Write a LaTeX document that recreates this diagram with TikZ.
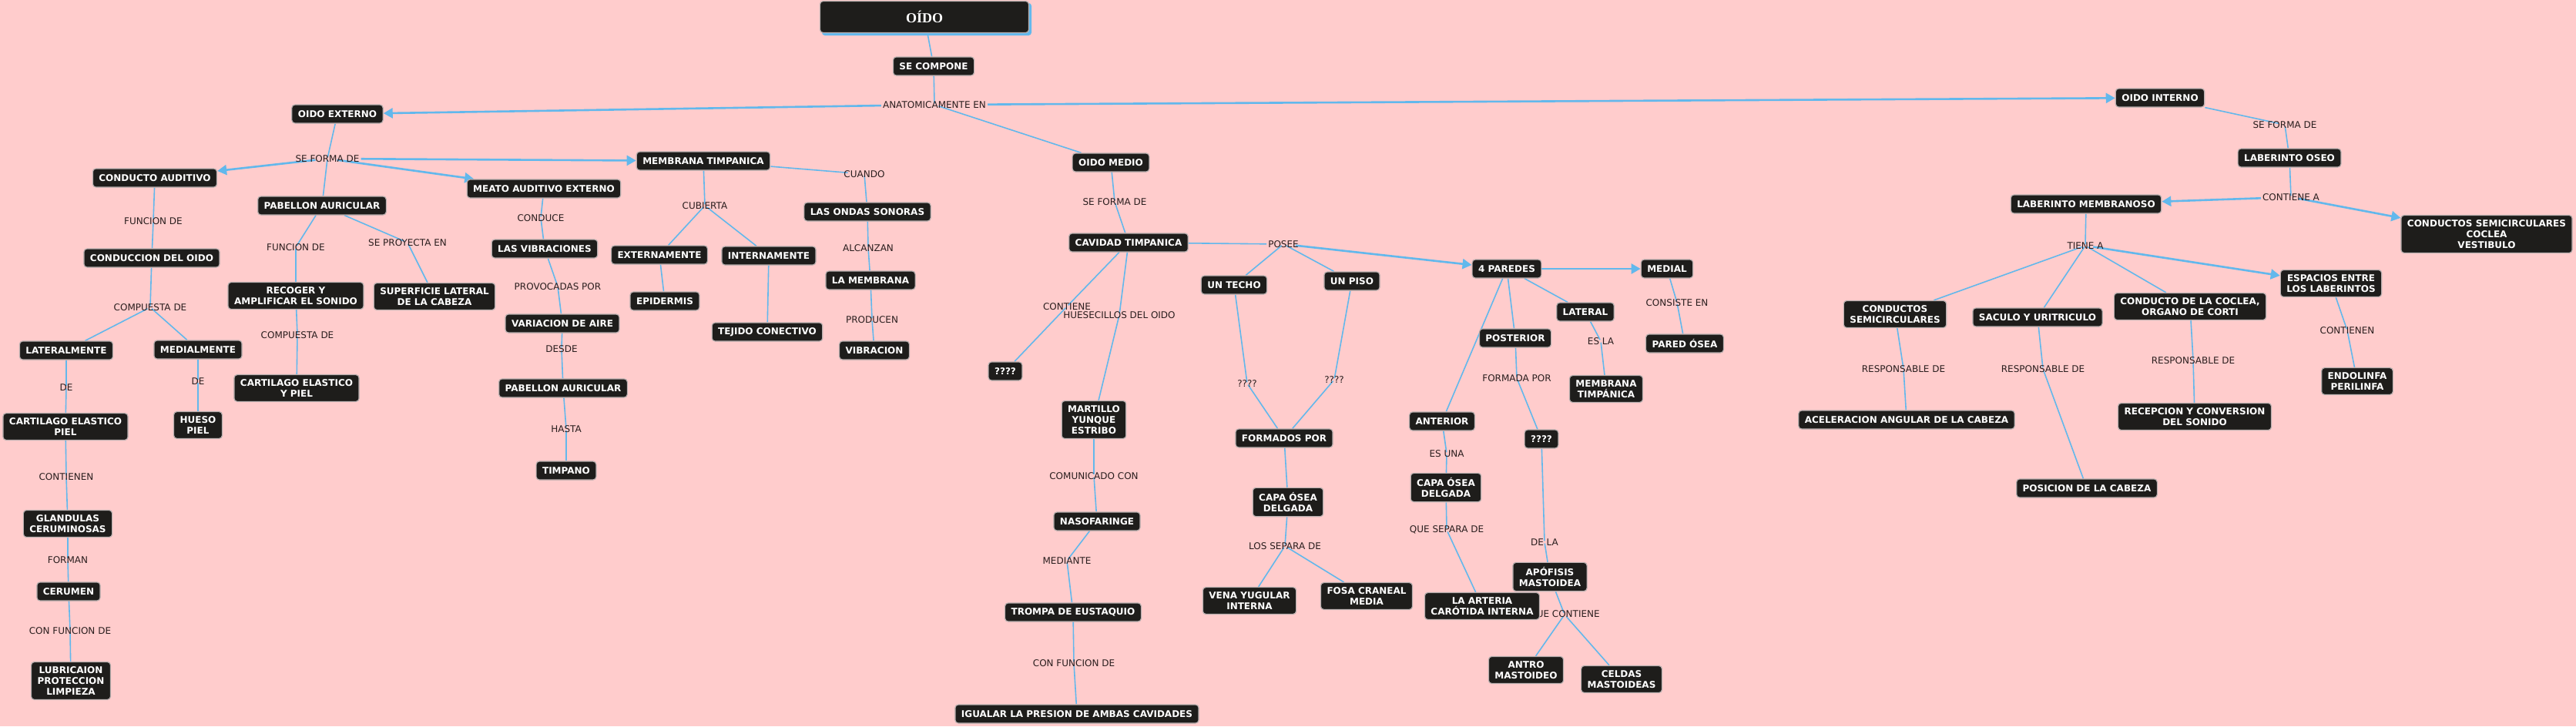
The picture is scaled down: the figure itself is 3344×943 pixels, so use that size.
\documentclass[tikz,border=0pt]{standalone}
\usepackage{fontspec}
\setmainfont{DejaVu Sans}
\newfontfamily\titlefont{Liberation Serif}
\usetikzlibrary{arrows.meta}
\definecolor{bgpink}{HTML}{FFCCCC}
\definecolor{boxdark}{HTML}{1E1D1B}
\definecolor{boxrim}{HTML}{B8AFAF}
\definecolor{linkblue}{HTML}{62B8EC}
\definecolor{phrasecol}{HTML}{2A1E1E}
\pgfdeclarelayer{background}
\pgfsetlayers{background,main}

\begin{document}
\begin{tikzpicture}[x=1pt,y=-1pt,
  concept/.style={draw=boxrim,line width=1.2pt,fill=boxdark,rounded corners=4pt,text=white,font=\fontsize{12}{14}\selectfont\bfseries,align=center,inner xsep=8pt,inner ysep=6pt,minimum height=24pt},
  phrase/.style={text=phrasecol,font=\fontsize{12}{14}\selectfont,inner xsep=2pt,inner ysep=-3pt},
  edge/.style={linkblue,line width=1.6pt},
  arr/.style={linkblue,line width=2.6pt,-{Triangle[length=12pt,width=13pt]}}]
\useasboundingbox (0,0) rectangle (3344,943);

% linking phrases
\foreach \id/\x/\y/\t in {
l1/1213/136/ANATOMICAMENTE EN, l2/425/206/SE FORMA DE, l3/199/287/FUNCION DE,
l4/195/399/COMPUESTA DE, l5/86/503/DE, l6/257/495/DE, l7/86/619/CONTIENEN,
l8/88/727/FORMAN, l9/91/819/CON FUNCION DE, l10/384/321/FUNCION DE,
l11/529/315/SE PROYECTA EN, l12/386/435/COMPUESTA DE, l13/702/283/CONDUCE,
l14/724/372/PROVOCADAS POR, l15/729/453/DESDE, l16/735/557/HASTA,
l17/915/267/CUBIERTA, l18/1122/226/CUANDO, l19/1127/322/ALCANZAN,
l20/1132/415/PRODUCEN, l21/1447/262/SE FORMA DE, l22/1385/398/CONTIENE,
l23/1453/409/HUESECILLOS DEL OIDO, l24/1420/618/COMUNICADO CON,
l25/1385/728/MEDIANTE, l26/1394/861/CON FUNCION DE, l27/1666/317/POSEE,
l28/1619/498/????, l29/1732/493/????, l30/1668/709/LOS SEPARA DE,
l31/2177/393/CONSISTE EN, l32/2078/443/ES LA, l33/1969/491/FORMADA POR,
l34/2005/704/DE LA, l35/2031/798/QUE CONTIENE, l36/1878/589/ES UNA,
l37/1878/688/QUE SEPARA DE, l38/2966/162/SE FORMA DE, l39/2974/256/CONTIENE A,
l40/2707/319/TIENE A, l41/2471/479/RESPONSABLE DE, l42/2652/479/RESPONSABLE DE,
l43/2847/468/RESPONSABLE DE, l44/3047/429/CONTIENEN}
{
  \node[phrase] (\id) at (\x,\y) {\t};
}

% concepts
\node[concept,font=\titlefont\fontsize{18}{20}\selectfont\bfseries,minimum width=271pt,minimum height=41pt] (oido) at (1200,22) {OÍDO};
\foreach \id/\x/\y/\t in {
comp/1212/86/SE COMPONE, ext/438/148/OIDO EXTERNO, int/2804/127/OIDO INTERNO,
med/1442/211/OIDO MEDIO, cond/201/231/CONDUCTO AUDITIVO,
pab/418/267/PABELLON AURICULAR, meato/706/245/MEATO AUDITIVO EXTERNO,
memb/913/209/MEMBRANA TIMPANICA, condo/197/335/CONDUCCION DEL OIDO,
latm/86/455/LATERALMENTE, medm/257/454/MEDIALMENTE,
cartp/85/554/CARTILAGO ELASTICO\\PIEL, hueso/257/552/HUESO\\PIEL,
gland/88/680/GLANDULAS\\CERUMINOSAS, cerum/89/768/CERUMEN,
lubr/92/884/LUBRICAION\\PROTECCION\\LIMPIEZA,
recog/384/384/RECOGER Y\\AMPLIFICAR EL SONIDO,
sup/564/385/SUPERFICIE LATERAL\\DE LA CABEZA,
carty/385/504/CARTILAGO ELASTICO\\Y PIEL,
vib/707/323/LAS VIBRACIONES, var/730/420/VARIACION DE AIRE,
pabb/731/504/PABELLON AURICULAR, timp/735/611/TIMPANO,
extm/856/331/EXTERNAMENTE, intm/998/332/INTERNAMENTE,
epid/863/391/EPIDERMIS, tej/996/431/TEJIDO CONECTIVO,
ondas/1126/275/LAS ONDAS SONORAS, lamem/1130/364/LA MEMBRANA,
vibr/1135/455/VIBRACION, cav/1465/315/CAVIDAD TIMPANICA,
qa/1305/482/????, mart/1420/545/MARTILLO\\YUNQUE\\ESTRIBO,
naso/1424/677/NASOFARINGE, trompa/1393/795/TROMPA DE EUSTAQUIO,
igual/1398/927/IGUALAR LA PRESION DE AMBAS CAVIDADES,
techo/1602/370/UN TECHO, piso/1755/365/UN PISO, par/1956/349/4 PAREDES,
form/1667/569/FORMADOS POR, capa/1672/652/CAPA ÓSEA\\DELGADA,
vena/1622/780/VENA YUGULAR\\INTERNA, fosa/1774/774/FOSA CRANEAL\\MEDIA,
medial/2164/349/MEDIAL, pared/2187/446/PARED ÓSEA, lat/2058/405/LATERAL,
membt/2085/505/MEMBRANA\\TIMPÁNICA, post/1967/439/POSTERIOR,
qb/2001/570/????, apof/2012/749/APÓFISIS\\MASTOIDEA,
antro/1981/870/ANTRO\\MASTOIDEO, celdas/2105/882/CELDAS\\MASTOIDEAS,
ant/1872/547/ANTERIOR, capb/1877/633/CAPA ÓSEA\\DELGADA,
art/1924/787/LA ARTERIA\\CARÓTIDA INTERNA,
lab/2972/205/LABERINTO OSEO, labm/2708/265/LABERINTO MEMBRANOSO,
csv/3228/304/CONDUCTOS SEMICIRCULARES\\COCLEA\\VESTIBULO,
csem/2460/408/CONDUCTOS\\SEMICIRCULARES, sac/2645/412/SACULO Y URITRICULO,
coc/2843/398/{CONDUCTO DE LA COCLEA,\\ORGANO DE CORTI},
esp/3026/368/ESPACIOS ENTRE\\LOS LABERINTOS,
acel/2475/545/ACELERACION ANGULAR DE LA CABEZA,
pos/2709/634/POSICION DE LA CABEZA,
recep/2849/541/RECEPCION Y CONVERSION\\DEL SONIDO,
endo/3060/495/ENDOLINFA\\PERILINFA}
{
  \node[concept] (\id) at (\x,\y) {\t};
}

\begin{pgfonlayer}{background}
\fill[bgpink] (0,0) rectangle (3344,943);
\fill[linkblue,rounded corners=4pt] ([xshift=3pt,yshift=-3pt]oido.south west) rectangle ([xshift=3pt,yshift=-3pt]oido.north east);
\foreach \a/\b in {oido/comp,comp/l1,l1/med,ext/l2,l2/pab,
cond/l3,l3/condo,condo/l4,l4/latm,l4/medm,latm/l5,l5/cartp,medm/l6,l6/hueso,
cartp/l7,l7/gland,gland/l8,l8/cerum,cerum/l9,l9/lubr,
pab/l10,l10/recog,pab/l11,l11/sup,recog/l12,l12/carty,
meato/l13,l13/vib,vib/l14,l14/var,var/l15,l15/pabb,pabb/l16,l16/timp,
memb/l17,l17/extm,l17/intm,extm/epid,intm/tej,
memb/l18,l18/ondas,ondas/l19,l19/lamem,lamem/l20,l20/vibr,
med/l21,l21/cav,cav/l22,l22/qa,cav/l23,l23/mart,mart/l24,l24/naso,
naso/l25,l25/trompa,trompa/l26,l26/igual,
cav/l27,l27/techo,l27/piso,techo/l28,l28/form,piso/l29,l29/form,
form/capa,capa/l30,l30/vena,l30/fosa,
par/lat,lat/l32,l32/membt,par/post,post/l33,l33/qb,qb/l34,l34/apof,
apof/l35,l35/antro,l35/celdas,par/ant,ant/l36,l36/capb,capb/l37,l37/art,
medial/l31,l31/pared,
int/l38,l38/lab,lab/l39,labm/l40,l40/csem,l40/sac,l40/coc,
csem/l41,l41/acel,sac/l42,l42/pos,coc/l43,l43/recep,esp/l44,l44/endo}
{\draw[edge] (\a)--(\b);}
\foreach \a/\b in {l1/ext,l1/int,l2/cond,l2/meato,l2/memb,l27/par,par/medial,l39/labm,l39/csv,l40/esp}
{\draw[arr] (\a)--(\b);}
\end{pgfonlayer}
\end{tikzpicture}
\end{document}
